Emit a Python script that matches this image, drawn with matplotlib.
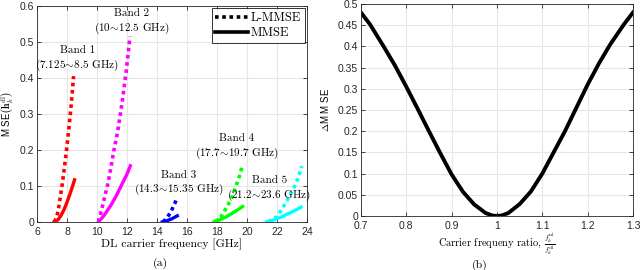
import matplotlib
matplotlib.use("Agg")
import matplotlib.pyplot as plt

plt.rcParams['mathtext.fontset'] = 'cm'
plt.rcParams['font.family'] = ['Liberation Sans', 'DejaVu Sans']

# ---- panel (a): MSE per band ----
b1_f_l = [7.15, 7.3, 7.42, 7.55, 7.69, 7.83, 7.97, 8.15, 8.31, 8.44]
b1_l = [0.0, 0.012, 0.033, 0.068, 0.107, 0.152, 0.2, 0.27, 0.339, 0.405]
b1_f_m = [7.15, 7.4, 7.6, 7.8, 8.0, 8.2, 8.4, 8.5]
b1_m = [0.0, 0.006, 0.018, 0.034, 0.055, 0.078, 0.103, 0.117]

b2_f_l = [10.1, 10.3, 10.5, 10.73, 10.93, 11.13, 11.36, 11.7, 11.95, 12.2]
b2_l = [0.0, 0.033, 0.068, 0.107, 0.152, 0.2, 0.247, 0.339, 0.42, 0.515]
b2_f_m = [10.1, 10.47, 10.95, 11.3, 11.69, 12.0, 12.22]
b2_m = [0.0, 0.018, 0.048, 0.074, 0.107, 0.133, 0.156]

b3_f_l = [14.4, 14.6, 14.8, 15.0, 15.2, 15.33]
b3_l = [0.0, 0.008, 0.02, 0.035, 0.053, 0.067]
b3_f_m = [14.35, 14.7, 15.0, 15.35]
b3_m = [0.0, 0.004, 0.009, 0.017]

b4_f_l = [17.85, 18.27, 18.73, 19.0, 19.29, 19.5, 19.7]
b4_l = [0.0, 0.015, 0.047, 0.07, 0.103, 0.128, 0.158]
b4_f_m = [17.8, 18.2, 18.6, 19.0, 19.4, 19.7]
b4_m = [0.0, 0.006, 0.014, 0.024, 0.034, 0.043]

b5_f_l = [21.4, 22.0, 22.49, 22.9, 23.22, 23.45, 23.65]
b5_l = [0.0, 0.015, 0.047, 0.077, 0.103, 0.128, 0.155]
b5_f_m = [21.3, 21.8, 22.3, 22.8, 23.2, 23.6]
b5_m = [0.0, 0.006, 0.014, 0.024, 0.032, 0.041]

band_colors = ['#ff0000', '#ff00ff', '#0000ff', '#00ff00', '#00ffff']
band_labels = ['Band 1\n(7.125$\\!\\sim\\!$8.5 GHz)', 'Band 2\n(10$\\!\\sim\\!$12.5 GHz)',
               'Band 3\n(14.3$\\!\\sim\\!$15.35 GHz)', 'Band 4\n(17.7$\\!\\sim\\!$19.7 GHz)',
               'Band 5\n(21.2$\\!\\sim\\!$23.6 GHz)']
label_pos = [(8.69, 0.452), (12.29, 0.554), (15.43, 0.106), (19.33, 0.208), (21.49, 0.09)]

# ---- panel (b): delta MMSE vs ratio ----
ratio = [0.70, 0.72, 0.75, 0.775, 0.80, 0.825, 0.85, 0.875, 0.90, 0.925, 0.95, 0.975, 0.99,
         1.0, 1.01, 1.025, 1.05, 1.075, 1.10, 1.125, 1.15, 1.175, 1.20, 1.225, 1.25, 1.28, 1.30]
delta = [0.48, 0.452, 0.40, 0.355, 0.305, 0.253, 0.20, 0.148, 0.098, 0.057, 0.027, 0.007, 0.001,
         0.0, 0.001, 0.007, 0.028, 0.058, 0.10, 0.15, 0.20, 0.255, 0.31, 0.36, 0.405, 0.452, 0.48]

serif = 'cmr10'


def style_axes(ax):
    ax.grid(True, color='#e6e6e6', linewidth=0.8)
    ax.set_axisbelow(True)
    ax.tick_params(direction='in', top=True, right=True, labelsize=7.5,
                   length=3, width=0.6, colors='#262626', pad=2)
    ax.tick_params(axis='x', pad=3.5)
    for s in ax.spines.values():
        s.set_color('#262626')
        s.set_linewidth(0.6)


fig = plt.figure(figsize=(6.4, 2.7), dpi=100)
ax1 = fig.add_axes([0.0578, 0.178, 0.422, 0.8])
ax2 = fig.add_axes([0.564, 0.2, 0.425, 0.785])

data = [(b1_f_l, b1_l, b1_f_m, b1_m), (b2_f_l, b2_l, b2_f_m, b2_m),
        (b3_f_l, b3_l, b3_f_m, b3_m), (b4_f_l, b4_l, b4_f_m, b4_m),
        (b5_f_l, b5_l, b5_f_m, b5_m)]
for (fl, l, fm, m), c, lab, (tx, ty) in zip(data, band_colors, band_labels, label_pos):
    ax1.plot(fl, l, color=c, linestyle=(0, (1, 1)), linewidth=2.6, dash_capstyle='butt')
    ax1.plot(fm, m, color=c, linestyle='-', linewidth=2.4)
    ax1.text(tx, ty, lab, ha='center', va='center', fontsize=8, family=serif,
             linespacing=1.25)

ax1.plot([], [], color='k', linestyle=(0, (1, 1)), linewidth=2.6, label='L-MMSE')
ax1.plot([], [], color='k', linestyle='-', linewidth=2.6, label='MMSE')
leg = ax1.legend(loc='upper right', prop={'family': serif, 'size': 9}, frameon=True,
                 fancybox=False, edgecolor='k', handlelength=2.6, handletextpad=0.2,
                 borderaxespad=0.2, borderpad=0.3, labelspacing=0.2)
leg.get_frame().set_linewidth(0.7)

ax1.set_xlim(6, 24)
ax1.set_ylim(0, 0.6)
ax1.set_xticks([6, 8, 10, 12, 14, 16, 18, 20, 22, 24])
ax1.set_yticks([0, 0.1, 0.2, 0.3, 0.4, 0.5, 0.6])
ax1.set_yticklabels(['0', '0.1', '0.2', '0.3', '0.4', '0.5', '0.6'])
style_axes(ax1)
ax1.set_xlabel('DL carrier frequency [GHz]', family=serif, fontsize=8.5, labelpad=1)
ax1.set_ylabel(r'M SE$\left(\hat{\mathbf{h}}_k^{\rm dl}\right)$', fontsize=7, labelpad=3)

ax2.plot(ratio, delta, color='k', linewidth=2.8)
ax2.set_xlim(0.7, 1.3)
ax2.set_ylim(0, 0.5)
ax2.set_xticks([0.7, 0.8, 0.9, 1.0, 1.1, 1.2, 1.3])
ax2.set_xticklabels(['0.7', '0.8', '0.9', '1', '1.1', '1.2', '1.3'])
ax2.set_yticks([0, 0.05, 0.1, 0.15, 0.2, 0.25, 0.3, 0.35, 0.4, 0.45, 0.5])
ax2.set_yticklabels(['0', '0.05', '0.1', '0.15', '0.2', '0.25', '0.3', '0.35', '0.4', '0.45', '0.5'])
style_axes(ax2)
ax2.set_xlabel(r'Carrier frequeny ratio, $\frac{f_k^{\rm ul}}{f_k^{\rm dl}}$', family=serif,
               fontsize=7.5, labelpad=0)
ax2.set_ylabel(r'$\Delta$M M SE', fontsize=7, labelpad=5)

fig.text(0.25, 0.026, '(a)', ha='center', va='center', family=serif, fontsize=8.5)
fig.text(0.75, 0.018, '(b)', ha='center', va='center', family=serif, fontsize=8.5)

fig.savefig('out.png', dpi=100)
